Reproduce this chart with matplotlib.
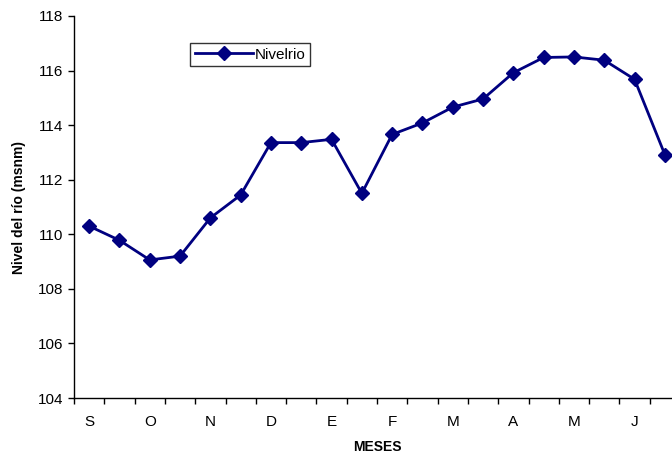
import matplotlib
matplotlib.use("Agg")
import matplotlib.pyplot as plt
import numpy as np

plt.rcParams['font.family'] = ['Liberation Sans', 'DejaVu Sans']

month_labels = ["S", "", "O", "", "N", "", "D", "", "E", "", "F", "", "M", "", "A", "", "M", "", "J", ""]
nivel = [110.3, 109.78, 109.06, 109.2, 110.6, 111.44, 113.36, 113.36, 113.48, 111.5,
         113.66, 114.08, 114.66, 114.96, 115.92, 116.48, 116.5, 116.38, 115.68, 112.92]

fig = plt.figure(figsize=(6.72, 4.57), dpi=100)
ax = fig.add_axes([74/672, 59/457, 606/672, 382/457])

x = np.arange(len(nivel))
ax.plot(x, nivel, color="#000080", lw=2, marker="D", ms=7.5, label="Nivelrio")

ax.set_xlim(-0.5, len(nivel) - 0.5)
ax.set_ylim(104, 118)
ax.set_yticks(np.arange(104, 119, 2))
ax.set_xticks(x)
ax.set_xticklabels(month_labels)
ax.set_xticks(np.arange(-0.5, len(nivel), 1), minor=True)
ax.tick_params(axis='x', which='major', length=0, pad=12, labelsize=11)
ax.tick_params(axis='x', which='minor', length=4, direction='out', width=1, color='black')
ax.tick_params(axis='y', length=4, direction='out', width=1, labelsize=11, pad=4)

for s in ['top', 'right']:
    ax.spines[s].set_visible(False)
for s in ['left', 'bottom']:
    ax.spines[s].set_color('black')
    ax.spines[s].set_linewidth(1)

ax.set_ylabel("Nivel del río (msnm)", fontsize=10, fontweight='bold', labelpad=8)
ax.set_xlabel("MESES", fontsize=10, fontweight='bold', labelpad=8)

leg = ax.legend(loc='upper left', bbox_to_anchor=(116/606, 1 - 27/382), frameon=True,
                fancybox=False, edgecolor='black', fontsize=11, handlelength=3.8,
                borderpad=0.3, handletextpad=0.15, borderaxespad=0)
leg.get_frame().set_linewidth(1)

fig.savefig("out.png", dpi=100)
